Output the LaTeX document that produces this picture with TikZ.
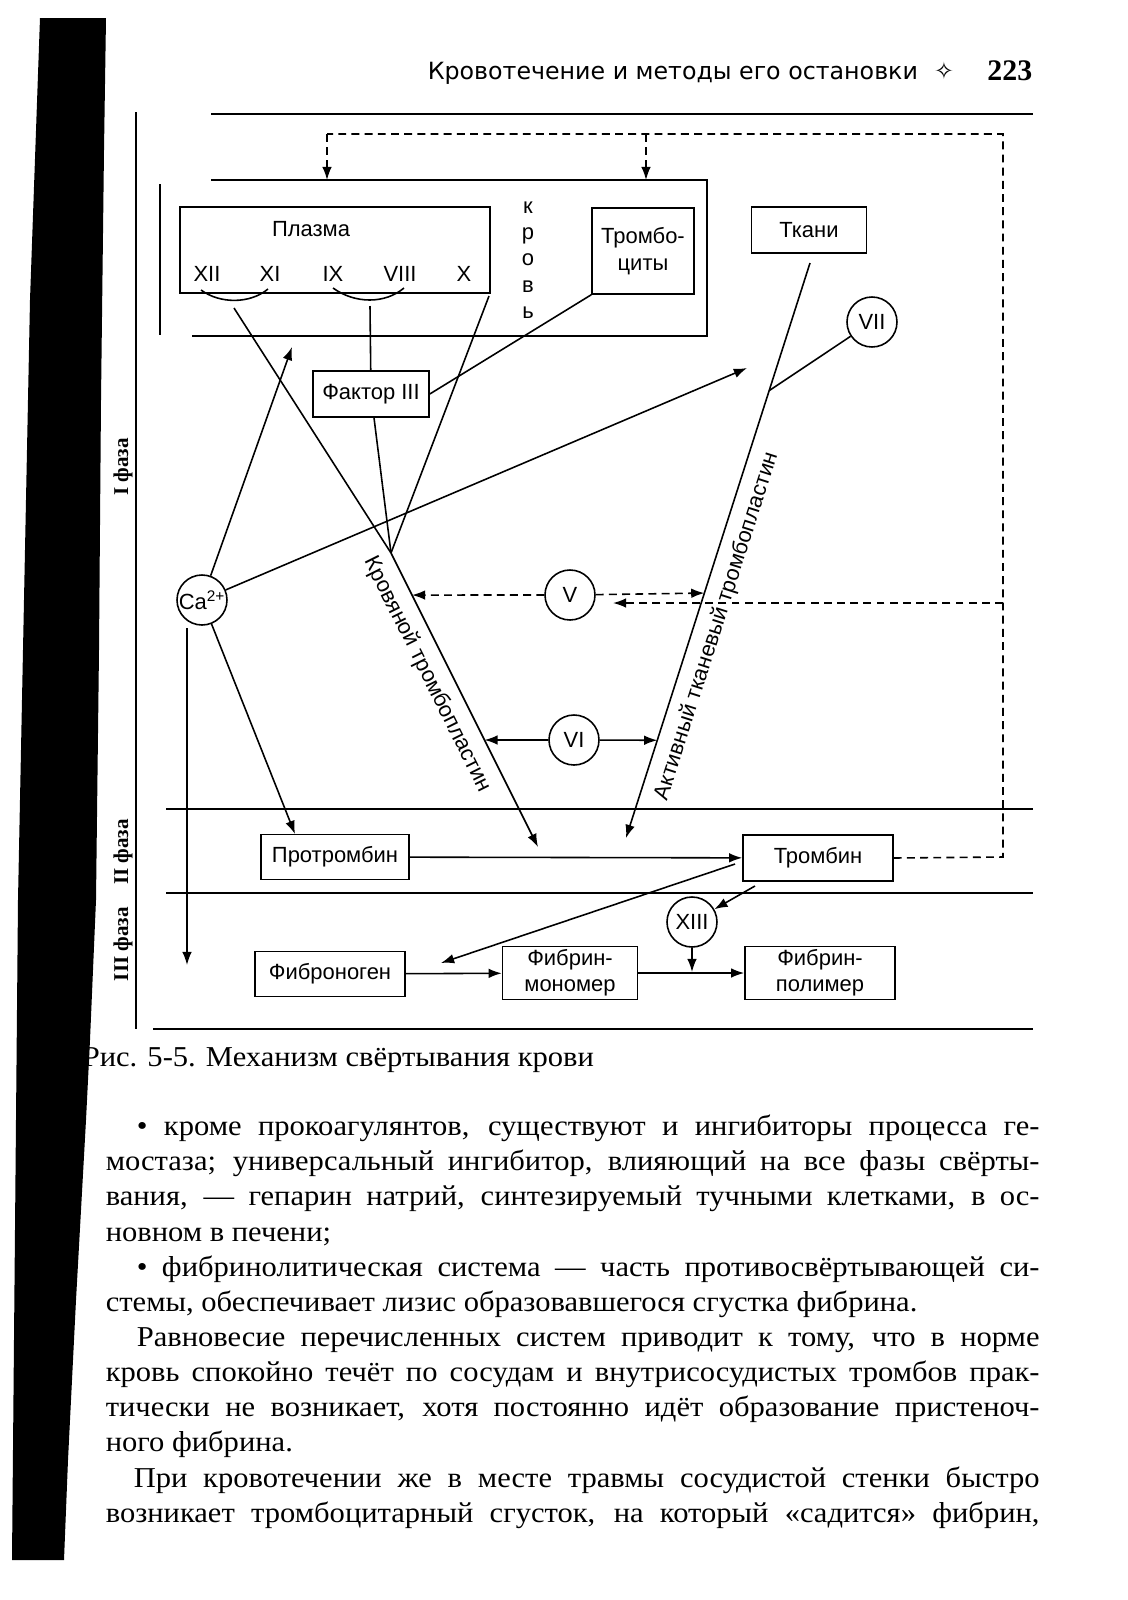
\documentclass[tikz,border=0pt]{standalone}
\usepackage{fontspec}
\setmainfont{Liberation Serif}
\setsansfont{Liberation Sans}
\newfontfamily\headfont{DejaVu Sans}
\newfontfamily\bodyfont[FakeStretch=1.06]{Liberation Serif}
\usetikzlibrary{arrows.meta,calc}

\begin{document}
\begin{tikzpicture}[x=0.02cm,y=-0.02cm,line width=0.9pt,
    dg/.style={font=\sffamily\fontsize{12.5}{15}\selectfont},
    box/.style={dg,draw,inner sep=0pt,align=center},
    fac/.style={dg,draw,circle,minimum size=1cm,inner sep=0pt},
    arr/.style={-{Latex[length=7.5pt,width=5.5pt]}},
    dsh/.style={dash pattern=on 4.5pt off 3pt},
    btxt/.style={font=\bodyfont\fontsize{16.4}{20}\selectfont,anchor=base west,inner sep=0pt}]
\useasboundingbox (0,0) rectangle (1127,1600);
\fill[white] (0,0) rectangle (1127,1600);
%Header
\node[anchor=base west,inner sep=0pt,font=\headfont\fontsize{13.5}{16}\selectfont] (head) at (427,79) {Кровотечение и методы его остановки};
\node[anchor=base,inner sep=0pt,font=\headfont\fontsize{13.5}{16}\selectfont] (star) at (944,79) {✧};
\node[anchor=base east,inner sep=0pt,font=\bfseries\fontsize{17}{20}\selectfont] (page) at (1033,80) {223};
%Frame
\draw (211,114) -- (1033,114);
\draw (136,112) -- (136,1029);
\draw (153,1029) -- (1033,1029);
\draw (166,809) -- (1033,809);
\draw (166,893) -- (1033,893);
%Blood
\draw (211,180) -- (707,180) -- (707,336) -- (192,336);
\draw (160,184) -- (160,335);
\node[box,minimum width=6.2cm,minimum height=1.72cm] (plasma) at (335,250) {};
\node[dg] (plasmat) at (311,229) {Плазма};
\node[dg] (f12) at (207,274) {XII};
\node[dg] (f11) at (270,274) {XI};
\node[dg] (f9) at (333,274) {IX};
\node[dg] (f8) at (400,274) {VIII};
\node[dg] (f10) at (464,274) {X};
\node[dg,align=center] (krov) at (528,260) {к\\р\\о\\в\\ь};
\node[box,minimum width=2.04cm,minimum height=1.72cm] (trombo) at (643,251) {Тромбо-\\циты};
%Boxes
\node[box,minimum width=2.3cm,minimum height=0.92cm] (tkani) at (809,230) {Ткани};
\node[box,minimum width=2.32cm,minimum height=0.92cm] (faktor) at (371,394) {Фактор III};
\node[fac] (vii) at (872,322) {VII};
\node[fac] (ca) at (202,600) {Ca\textsuperscript{2+}};
\node[fac] (v) at (570,595) {V};
\node[fac] (vi) at (574,740) {VI};
\node[box,minimum width=2.96cm,minimum height=0.9cm] (protr) at (335,857) {Протромбин};
\node[box,minimum width=3cm,minimum height=0.92cm] (tromb) at (818,858) {Тромбин};
\node[fac] (xiii) at (692,922) {XIII};
\node[box,minimum width=3cm,minimum height=0.9cm] (fibrg) at (330,974) {Фиброноген};
\node[box,minimum width=2.7cm,minimum height=1.06cm] (mono) at (570,973) {Фибрин-\\мономер};
\node[box,minimum width=3cm,minimum height=1.06cm] (poly) at (820,973) {Фибрин-\\полимер};
%Points
\coordinate (kt) at (391,553);
\coordinate (ktend) at (538,847);
\coordinate (tt) at (810,263);
\coordinate (ttend) at (626,838);
\coordinate (a12) at (234,308);
\coordinate (a9) at (370,306);
\coordinate (ax) at (489,296);
\coordinate (caup) at (292,347);
\coordinate (cart) at (747,368);
\coordinate (capr) at (295,834);
\coordinate (cad0) at (187,628);
\coordinate (cad1) at (187,965);
\coordinate (dsR) at (1003,134);
\coordinate (dsL) at (327,134);
\coordinate (dsM) at (646,134);
\coordinate (dsB) at (1003,857);
\coordinate (dsV) at (1003,603);
\coordinate (v2) at (613,603);
\coordinate (bL) at (327,180);
\coordinate (bM) at (646,180);
\coordinate (tfa) at (735,864);
\coordinate (tfb) at (441,963);
\coordinate (txa) at (755,886);
\coordinate (xiiib) at (692,972);
%Arcs
\draw (201,290) .. controls (220,304) and (250,304) .. (268,289);
\draw (333,288) .. controls (355,304) and (385,304) .. (404,288);
%Lines
\draw (a12) -- (kt);
\draw (a9) -- (faktor);
\draw (faktor) -- (kt);
\draw (ax) -- (kt);
\draw (trombo.south west) -- (faktor.east);
\draw[arr] (kt) -- (ktend);
\draw[arr] (tt) -- (ttend);
\draw (vii) -- ($(tt)!0.222!(ttend)$);
\path (kt) -- (ktend) node[dg,sloped,pos=0.38,below=6pt,inner sep=0pt] (krlab) {Кровяной тромбопластин};
\path (ttend) -- (tt) node[dg,sloped,pos=0.38,below=6pt,inner sep=0pt] (tklab) {Активный тканевый тромбопластин};
\draw[arr] (ca) -- (caup);
\draw[arr] (ca) -- (cart);
\draw[arr] (ca) -- (capr);
\draw[arr] (cad0) -- (cad1);
\draw[arr,dsh] (v) -- ($(kt)!0.143!(ktend)$);
\draw[arr,dsh] (v) -- ($(tt)!0.574!(ttend)$);
\draw[arr,dsh] (dsV) -- (v2);
\draw[arr] (vi) -- ($(kt)!0.636!(ktend)$);
\draw[arr] (vi) -- ($(tt)!0.83!(ttend)$);
\draw[dsh] (tromb.east) -- (dsB) -- (dsR) -- (dsL);
\draw[arr,dsh] (dsL) -- (bL);
\draw[arr,dsh] (dsM) -- (bM);
\draw[arr] (protr) -- (tromb);
\draw[arr] (tfa) -- (tfb);
\draw[arr] (txa) -- (xiii);
\draw[arr] (xiii) -- (xiiib);
\draw[arr] (fibrg) -- (mono);
\draw[arr] (mono) -- (poly);
%Phases
\node[rotate=90,font=\bfseries\fontsize{12}{14}\selectfont] (ph1) at (123,467) {I фаза};
\node[rotate=90,font=\bfseries\fontsize{12}{14}\selectfont] (ph2) at (123,852) {II фаза};
\node[rotate=90,font=\bfseries\fontsize{12}{14}\selectfont] (ph3) at (123,944) {III фаза};
%Caption and text
\node[btxt] (cap) at (82,1066) {Рис. 5-5. Механизм свёртывания крови};
\node[btxt] (b1) at (136,1135) {\makebox[18.06cm][s]{• кроме прокоагулянтов, существуют и ингибиторы процесса ге-}};
\node[btxt] (b2) at (105,1170) {\makebox[18.68cm][s]{мостаза; универсальный ингибитор, влияющий на все фазы свёрты-}};
\node[btxt] (b3) at (105,1205) {\makebox[18.68cm][s]{вания, — гепарин натрий, синтезируемый тучными клетками, в ос-}};
\node[btxt] (b4) at (105,1241) {новном в печени;};
\node[btxt] (b5) at (136,1276) {\makebox[18.06cm][s]{• фибринолитическая система — часть противосвёртывающей си-}};
\node[btxt] (b6) at (105,1311) {стемы, обеспечивает лизис образовавшегося сгустка фибрина.};
\node[btxt] (b7) at (136,1346) {\makebox[18.06cm][s]{Равновесие перечисленных систем приводит к тому, что в норме}};
\node[btxt] (b8) at (105,1381) {\makebox[18.68cm][s]{кровь спокойно течёт по сосудам и внутрисосудистых тромбов прак-}};
\node[btxt] (b9) at (105,1416) {\makebox[18.68cm][s]{тически не возникает, хотя постоянно идёт образование пристеноч-}};
\node[btxt] (b10) at (105,1451) {ного фибрина.};
\node[btxt] (b11) at (133,1487) {\makebox[18.12cm][s]{При кровотечении же в месте травмы сосудистой стенки быстро}};
\node[btxt] (b12) at (105,1522) {\makebox[18.68cm][s]{возникает тромбоцитарный сгусток, на который «садится» фибрин,}};
%Edge
\fill[black] (40,18) -- (106,18) -- (104,150) -- (101,400) -- (99,650) -- (96,900) -- (90,1040) -- (86,1120) -- (76,1300) -- (68,1460) -- (64,1560) -- (12,1560) -- (18,900) -- (30,300) -- cycle;
\end{tikzpicture}
\end{document}
